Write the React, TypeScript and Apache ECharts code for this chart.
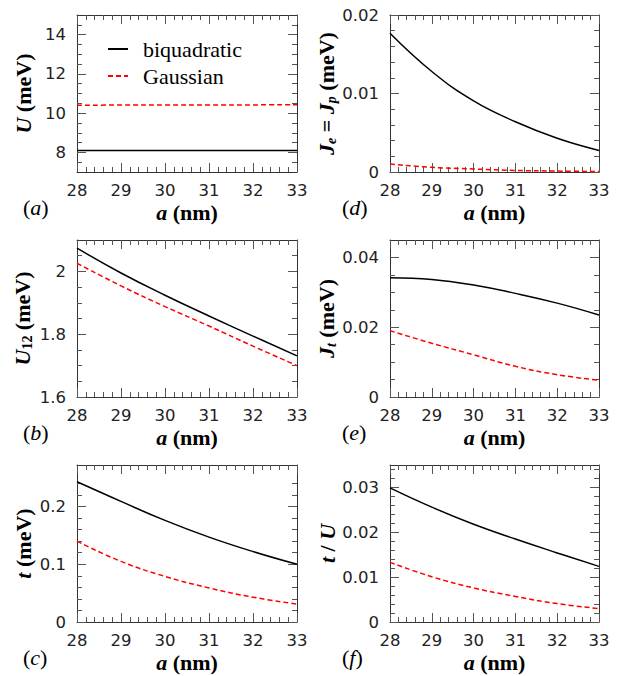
import React, { useEffect, useRef } from 'react';
import * as echarts from 'echarts';

// lattice constant a (nm)
const aNm = [28, 29, 30, 31, 32, 33];

// (a) U (meV)
const uBiq = [8.1, 8.1, 8.1, 8.1, 8.1, 8.1];
const uGau = [10.4, 10.41, 10.41, 10.42, 10.42, 10.43];
// (b) U12 (meV)
const u12Biq = [2.074, 1.995, 1.924, 1.858, 1.794, 1.731];
const u12Gau = [2.026, 1.954, 1.888, 1.826, 1.762, 1.7];
// (c) t (meV)
const tBiq = [0.243, 0.209, 0.176, 0.147, 0.122, 0.1];
const tGau = [0.14, 0.105, 0.079, 0.059, 0.043, 0.031];
// (d) Je = Jp (meV)
const jeBiq = [0.01767, 0.0128, 0.00905, 0.0064, 0.0043, 0.00275];
const jeGau = [0.00102, 0.0006, 0.00038, 0.0002, 0.00012, 0.00005];
// (e) Jt (meV)
const jtBiq = [0.0342, 0.0337, 0.0321, 0.0297, 0.0269, 0.0235];
const jtGau = [0.019, 0.0154, 0.0121, 0.0088, 0.0064, 0.0048];
// (f) t / U
const tuBiq = [0.0299, 0.0256, 0.0218, 0.0185, 0.0154, 0.0124];
const tuGau = [0.0133, 0.0101, 0.0076, 0.0057, 0.0041, 0.003];

// y tick values
const yMajA = [8, 10, 12, 14];
const yMinA = [7.5, 8.5, 9, 9.5, 10.5, 11, 11.5, 12.5, 13, 13.5, 14.5];
const yMajB = [1.6, 1.8, 2];
const yMinB = [1.65, 1.7, 1.75, 1.85, 1.9, 1.95, 2.05];
const yMajC = [0, 0.1, 0.2];
const yMinC = [0.02, 0.04, 0.06, 0.08, 0.12, 0.14, 0.16, 0.18, 0.22, 0.24];
const yMajD = [0, 0.01, 0.02];
const yMinD = [0.002, 0.004, 0.006, 0.008, 0.012, 0.014, 0.016, 0.018];
const yMajE = [0, 0.02, 0.04];
const yMinE = [0.005, 0.01, 0.015, 0.025, 0.03, 0.035];
const yMajF = [0, 0.01, 0.02, 0.03];
const yMinF = [0.002, 0.004, 0.006, 0.008, 0.012, 0.014, 0.016, 0.018, 0.022, 0.024, 0.026, 0.028, 0.032, 0.034];

const seriesNames = ['biquadratic', 'Gaussian'];
const panelLetters = ['a', 'b', 'c', 'd', 'e', 'f'];

const serif = '"Liberation Serif", "Times New Roman", serif';
const sans = '"DejaVu Sans", "Noto Sans", sans-serif';
const frameColor = '#333';
const tickColor = '#555';

const titleRich: any = {
  b: { fontFamily: serif, fontWeight: 'bold', fontSize: 22, color: '#000' },
  bi: { fontFamily: serif, fontWeight: 'bold', fontStyle: 'italic', fontSize: 22, color: '#000' },
  sub: { fontFamily: serif, fontWeight: 'bold', fontSize: 14, color: '#000', padding: [10, 0, 0, 0] },
  subi: { fontFamily: serif, fontWeight: 'bold', fontStyle: 'italic', fontSize: 14, color: '#000', padding: [10, 0, 0, 0] },
};

const panels = [
  { biq: uBiq, gau: uGau, min: 7, max: 15, maj: yMajA, mnr: yMinA, title: '{bi|U}{b| (meV)}', left: 77, top: 15, width: 220, gap: 43 },
  { biq: u12Biq, gau: u12Gau, min: 1.6, max: 2.1, maj: yMajB, mnr: yMinB, title: '{bi|U}{sub|12}{b| (meV)}', left: 77, top: 240, width: 220, gap: 43 },
  { biq: tBiq, gau: tGau, min: 0, max: 0.272, maj: yMajC, mnr: yMinC, title: '{bi|t}{b| (meV)}', left: 77, top: 465, width: 220, gap: 43 },
  { biq: jeBiq, gau: jeGau, min: 0, max: 0.02, maj: yMajD, mnr: yMinD, title: '{bi|J}{subi|e}{b| = }{bi|J}{subi|p}{b| (meV)}', left: 390, top: 15, width: 209, gap: 51 },
  { biq: jtBiq, gau: jtGau, min: 0, max: 0.045, maj: yMajE, mnr: yMinE, title: '{bi|J}{subi|t}{b| (meV)}', left: 390, top: 240, width: 209, gap: 51 },
  { biq: tuBiq, gau: tuGau, min: 0, max: 0.035, maj: yMajF, mnr: yMinF, title: '{bi|t}{b| / }{bi|U}', left: 390, top: 465, width: 209, gap: 51 },
];

const PANEL_H = 157;

function buildOption() {
  const grid: any[] = [];
  const xAxis: any[] = [];
  const yAxis: any[] = [];
  const series: any[] = [];
  const graphic: any[] = [];

  panels.forEach((p, g) => {
    grid.push({ left: p.left, top: p.top, width: p.width, height: PANEL_H, containLabel: false });
    const xCommon = {
      type: 'value', gridIndex: g, min: 28, max: 33, interval: 1,
      axisLine: { show: true, onZero: false, lineStyle: { color: frameColor, width: 1 } },
      axisTick: { show: true, inside: true, length: 9, lineStyle: { color: tickColor } },
      minorTick: { show: true, splitNumber: 5, length: 5, lineStyle: { color: tickColor } },
      splitLine: { show: false },
      minorSplitLine: { show: false },
    };
    xAxis.push({
      ...xCommon, position: 'bottom',
      axisLabel: { show: true, margin: 10, fontFamily: sans, fontSize: 16.5, color: '#222' },
      name: '{bi|a}{b| (nm)}', nameLocation: 'middle', nameGap: 29,
      nameTextStyle: { rich: titleRich },
    });
    xAxis.push({ ...xCommon, position: 'top', axisLabel: { show: false } });

    const yBase = {
      type: 'value', gridIndex: g, min: p.min, max: p.max,
      splitLine: { show: false },
    };
    yAxis.push({
      ...yBase, position: 'left',
      axisLine: { show: true, onZero: false, lineStyle: { color: frameColor, width: 1 } },
      axisTick: { show: true, inside: true, length: 9, customValues: p.maj, lineStyle: { color: tickColor } },
      axisLabel: { show: true, customValues: p.maj, margin: 11, fontFamily: sans, fontSize: 16.5, color: '#222' },
      name: p.title, nameLocation: 'middle', nameGap: p.gap, nameRotate: 90,
      nameTextStyle: { rich: titleRich },
    });
    yAxis.push({
      ...yBase, position: 'left',
      axisLine: { show: false, onZero: false },
      axisTick: { show: true, inside: true, length: 5, customValues: p.mnr, lineStyle: { color: tickColor } },
      axisLabel: { show: false },
    });
    yAxis.push({
      ...yBase, position: 'right',
      axisLine: { show: true, onZero: false, lineStyle: { color: frameColor, width: 1 } },
      axisTick: { show: true, inside: true, length: 9, customValues: p.maj, lineStyle: { color: tickColor } },
      axisLabel: { show: false },
    });
    yAxis.push({
      ...yBase, position: 'right',
      axisLine: { show: false, onZero: false },
      axisTick: { show: true, inside: true, length: 5, customValues: p.mnr, lineStyle: { color: tickColor } },
      axisLabel: { show: false },
    });

    series.push({
      type: 'line', name: seriesNames[0], xAxisIndex: 2 * g, yAxisIndex: 4 * g,
      data: aNm.map((a, i) => [a, p.biq[i]]),
      symbol: 'none', showSymbol: false, smooth: 0.45,
      lineStyle: { color: '#000', width: 1.5, type: 'solid' }, itemStyle: { color: '#000' },
      silent: true,
    });
    series.push({
      type: 'line', name: seriesNames[1], xAxisIndex: 2 * g, yAxisIndex: 4 * g,
      data: aNm.map((a, i) => [a, p.gau[i]]),
      symbol: 'none', showSymbol: false, smooth: 0.45,
      lineStyle: { color: '#ff0000', width: 1.5, type: [5, 3] }, itemStyle: { color: '#ff0000' },
      silent: true,
    });

    graphic.push({
      type: 'text',
      x: p.left - (g < 3 ? 54 : 48),
      y: p.top + 192,
      style: {
        text: `{p|(}{i|${panelLetters[g]}}{p|)}`,
        verticalAlign: 'middle',
        align: 'left',
        rich: {
          p: { fontFamily: serif, fontSize: 22, fill: '#000' },
          i: { fontFamily: serif, fontStyle: 'italic', fontSize: 22, fill: '#000' },
        },
      },
    });
  });

  return {
    animation: false,
    backgroundColor: '#fff',
    grid, xAxis, yAxis, series, graphic,
    legend: {
      show: true,
      data: seriesNames,
      orient: 'vertical',
      left: 102,
      top: 33,
      itemWidth: 20,
      itemHeight: 14,
      itemGap: 5,
      selectedMode: false,
      itemStyle: { opacity: 0 },
      textStyle: { fontFamily: serif, fontSize: 22, color: '#000', lineHeight: 22, padding: [0, 0, 0, 10] },
    },
  };
}

export default function App() {
  const ref = useRef<HTMLDivElement>(null);
  useEffect(() => {
    if (!ref.current) return;
    const chart = echarts.init(ref.current, undefined, { renderer: 'svg' });
    chart.setOption(buildOption() as any);
    return () => chart.dispose();
  }, []);
  return (
    <div
      ref={ref}
      style={{ position: 'absolute', left: 0, top: 0, width: 621, height: 676, background: '#fff' }}
    />
  );
}
